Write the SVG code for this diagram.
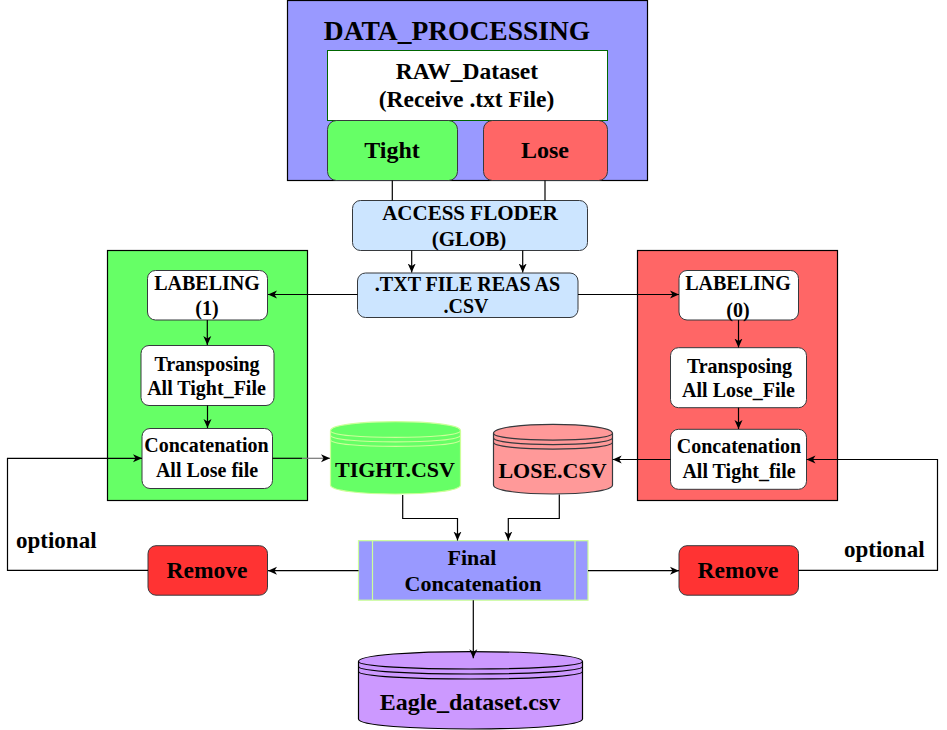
<svg xmlns="http://www.w3.org/2000/svg" width="947" height="730" viewBox="0 0 947 730">
<style>
text{font-family:"Liberation Serif","Times New Roman",serif;font-weight:bold;fill:#000;text-anchor:middle}
.c{fill:none;stroke:#000;stroke-width:1.2}
.a{marker-end:url(#ah)}
.box{fill:#fff;stroke:#36393d;stroke-width:1}
</style>
<defs>
<marker id="ah" markerUnits="userSpaceOnUse" markerWidth="10" markerHeight="9" refX="9" refY="4.5" orient="auto">
<path d="M0,0.5 L9,4.5 L0,8.5 L2.5,4.5 z" fill="#000"/>
</marker>
</defs>

<g id="data_processing">
<rect x="287.5" y="0.5" width="360" height="180" fill="#9999ff" stroke="#000" stroke-width="1.2"/>
<text x="457" y="40" font-size="27.5">DATA_PROCESSING</text>
</g>
<g id="raw_dataset">
<rect x="327.5" y="50.5" width="280" height="70" fill="#fff" stroke="#006600" stroke-width="1"/>
<text x="467" y="79" font-size="23.5">RAW_Dataset</text>
<text x="466.5" y="107" font-size="23.5">(Receive .txt File)</text>
</g>
<g id="tight">
<rect x="327.5" y="120.5" width="130" height="60" rx="9" fill="#66ff66" stroke="#36393d"/>
<text x="392" y="158" font-size="24">Tight</text>
</g>
<g id="lose">
<rect x="483.5" y="120.5" width="124" height="60" rx="9" fill="#ff6666" stroke="#36393d"/>
<text x="545" y="158" font-size="24">Lose</text>
</g>

<g id="access_folder">
<rect x="352.5" y="200.5" width="235" height="50" rx="8" fill="#cce5ff" stroke="#36393d"/>
<text x="470" y="220" font-size="21">ACCESS FLODER</text>
<text x="469" y="246" font-size="21">(GLOB)</text>
</g>
<g id="txt_read">
<rect x="357.5" y="273" width="220.5" height="44.5" rx="8" fill="#cce5ff" stroke="#36393d"/>
<text x="467.5" y="291" font-size="20">.TXT FILE REAS AS</text>
<text x="466" y="313" font-size="20">.CSV</text>
</g>

<g id="tight_group">
<rect x="107.5" y="250.5" width="200" height="250" fill="#66ff66" stroke="#000" stroke-width="1.2"/>
</g>
<g id="labeling1">
<rect class="box" x="147.5" y="270.5" width="120" height="49.5" rx="8"/>
<text x="207" y="290" font-size="20">LABELING</text>
<text x="207" y="315" font-size="20">(1)</text>
</g>
<g id="transpose_tight">
<rect class="box" x="141" y="345.5" width="133" height="60" rx="8"/>
<text x="207" y="371" font-size="20">Transposing</text>
<text x="206.5" y="395" font-size="20">All Tight_File</text>
</g>
<g id="concat_lose">
<rect class="box" x="142" y="428.5" width="130.5" height="60" rx="8"/>
<text x="206.5" y="452" font-size="20">Concatenation</text>
<text x="207" y="477" font-size="20">All Lose file</text>
</g>

<g id="lose_group">
<rect x="637.5" y="250.5" width="200" height="250" fill="#ff6666" stroke="#000" stroke-width="1.2"/>
</g>
<g id="labeling0">
<rect class="box" x="679" y="270.5" width="119.5" height="49.5" rx="8"/>
<text x="738" y="290" font-size="20">LABELING</text>
<text x="738" y="316.5" font-size="20">(0)</text>
</g>
<g id="transpose_lose">
<rect class="box" x="670.5" y="347.7" width="136" height="60" rx="8"/>
<text x="739.5" y="373" font-size="20">Transposing</text>
<text x="738.5" y="397" font-size="20">All Lose_File</text>
</g>
<g id="concat_tight">
<rect class="box" x="670.5" y="429.3" width="136" height="60" rx="8"/>
<text x="739" y="453" font-size="20">Concatenation</text>
<text x="739" y="478" font-size="20">All Tight_file</text>
</g>

<g id="tight_csv">
<path d="M330.5,430.7 C330.5,418.7 460.5,418.7 460.5,430.7 L460.5,485 C460.5,497 330.5,497 330.5,485 Z" fill="#66ff66" stroke="#ccff99" stroke-width="1.2"/>
<path d="M330.5,430.7 C330.5,439.7 460.5,439.7 460.5,430.7 M330.5,435.2 C330.5,444.2 460.5,444.2 460.5,435.2 M330.5,439.7 C330.5,448.7 460.5,448.7 460.5,439.7" fill="none" stroke="#ccff99" stroke-width="1.2"/>
<text x="395" y="477" font-size="22">TIGHT.CSV</text>
</g>
<g id="lose_csv">
<path d="M493.5,433.3 C493.5,421.3 612.5,421.3 612.5,433.3 L612.5,485 C612.5,497 493.5,497 493.5,485 Z" fill="#ff9999" stroke="#36393d" stroke-width="1.2"/>
<path d="M493.5,433.3 C493.5,442.3 612.5,442.3 612.5,433.3 M493.5,437.8 C493.5,446.8 612.5,446.8 612.5,437.8 M493.5,442.3 C493.5,451.3 612.5,451.3 612.5,442.3" fill="none" stroke="#36393d" stroke-width="1.2"/>
<text x="552.5" y="478" font-size="22">LOSE.CSV</text>
</g>

<g id="final_concat">
<rect x="358.5" y="540.7" width="229.5" height="59.5" fill="#9999ff" stroke="#ccff99" stroke-width="1.2"/>
<line x1="372.5" y1="540.7" x2="372.5" y2="600.2" stroke="#ccff99" stroke-width="1.2"/>
<line x1="575" y1="540.7" x2="575" y2="600.2" stroke="#ccff99" stroke-width="1.2"/>
<text x="472" y="565" font-size="22">Final</text>
<text x="473" y="591" font-size="22">Concatenation</text>
</g>

<g id="eagle_dataset">
<path d="M358.5,661.5 C358.5,648.2 582.5,648.2 582.5,661.5 L582.5,719 C582.5,732.3 358.5,732.3 358.5,719 Z" fill="#cc99ff" stroke="#000" stroke-width="1.2"/>
<path d="M358.5,661.5 C358.5,671.5 582.5,671.5 582.5,661.5 M358.5,666.5 C358.5,676.5 582.5,676.5 582.5,666.5 M358.5,671.5 C358.5,681.5 582.5,681.5 582.5,671.5" fill="none" stroke="#000" stroke-width="1.2"/>
<text x="470" y="710" font-size="24">Eagle_dataset.csv</text>
</g>

<g id="remove_left">
<rect x="148" y="545.7" width="119.5" height="49.5" rx="8" fill="#ff3333" stroke="#36393d"/>
<text x="207" y="578" font-size="23.5">Remove</text>
</g>
<g id="remove_right">
<rect x="679" y="545.7" width="119.5" height="49.5" rx="8" fill="#ff3333" stroke="#36393d"/>
<text x="738" y="578" font-size="23.5">Remove</text>
</g>

<g id="labels">
<text x="16" y="548" font-size="23" style="text-anchor:start">optional</text>
<text x="844" y="557" font-size="23" style="text-anchor:start">optional</text>
</g>

<g id="connectors">
<path class="c" d="M392.3,180.5 V200.5"/>
<path class="c" d="M545,180.5 V200.5"/>
<path class="c a" d="M411.7,250.5 V272.5"/>
<path class="c a" d="M522.7,250.5 V272.5"/>
<path class="c a" d="M357.5,294.5 H268"/>
<path class="c a" d="M578,294.5 H679"/>
<path class="c a" d="M207.3,320 V345"/>
<path class="c a" d="M207.5,405.5 V428"/>
<path class="c a" d="M738.5,320 V347.5"/>
<path class="c a" d="M738.5,407.7 V429"/>
<path class="c" d="M272.5,458.3 H302"/>
<path class="a" d="M302,458.3 H330" fill="none" stroke="#777" stroke-width="1.2"/>
<path class="c a" d="M670.5,459.5 H612.7"/>
<path class="c a" d="M402.7,495 V518.5 H457.5 V540.5"/>
<path class="c a" d="M559.3,494.5 V518.5 H508.3 V540.5"/>
<path class="c a" d="M358.5,570.7 H268"/>
<path class="c a" d="M588,570.7 H679"/>
<path class="c a" d="M148,570.3 H7.5 V458.3 H142"/>
<path class="c a" d="M798.5,570.3 H937.5 V459.5 H806.5"/>
<path class="c a" d="M473.3,600.2 V658.3"/>
</g>
</svg>
